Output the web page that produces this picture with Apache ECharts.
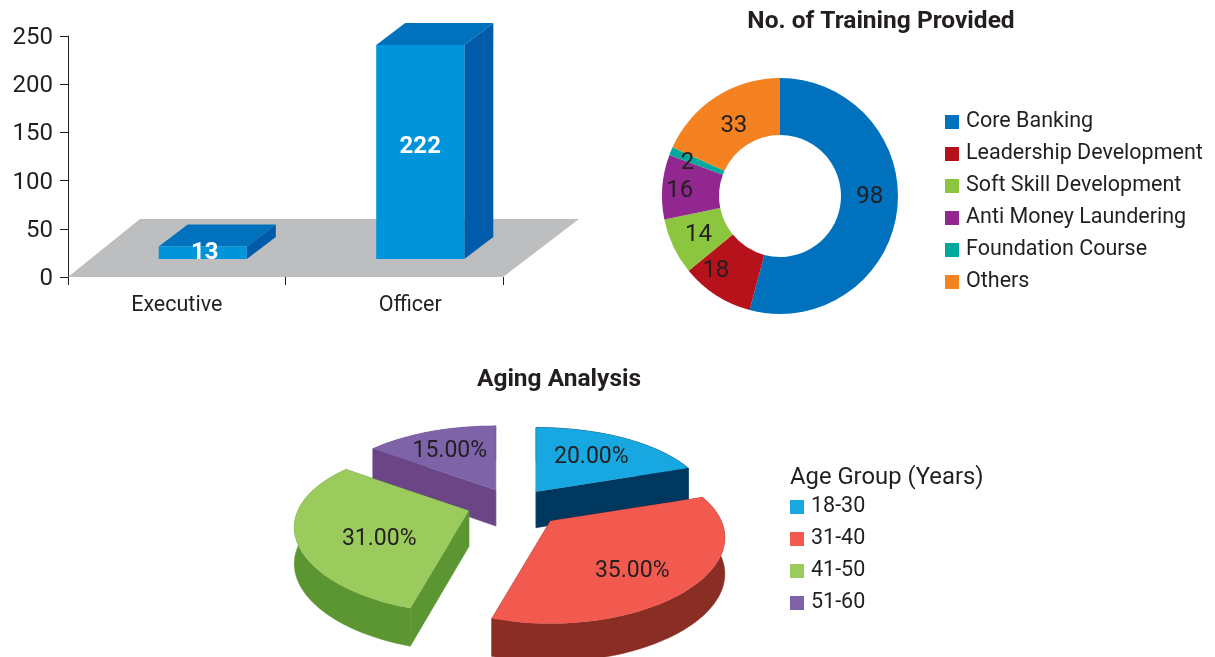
<!DOCTYPE html>
<html><head><meta charset="utf-8">
<style>html,body{margin:0;padding:0;background:#fff}#c{width:1215px;height:657px}</style>
<script src="https://cdn.jsdelivr.net/npm/echarts@6/dist/echarts.min.js"></script>
</head><body><div id="c"></div>
<script>
// --- data ---
const staffCategories = ['Executive', 'Officer'];
const staffValues = [13, 222];
const yTicks = {min: 0, max: 250, interval: 50};
const trainingNames = ['Core Banking', 'Leadership Development', 'Soft Skill Development', 'Anti Money Laundering', 'Foundation Course', 'Others'];
const trainingValues = [98, 18, 14, 16, 2, 33];
const ageGroups = ['18-30', '31-40', '41-50', '51-60'];
const agePercents = [20, 35, 31, 15];
// --- style ---
const FONT = 'Roboto', INK = '#231F20';
const trainingColors = ['#0071BC', '#B5121B', '#8CC63F', '#92278F', '#00A99D', '#F58220'];
const trainingLabelShift = [[-2, -11], [-14, -3], [2, -1], [-8, 2], [-7, 2], [4, 8]];
const ageTop = ['#17A8E1', '#F2594F', '#9BCB5C', '#7F63A9'];
const ageWall = ['#00375F', '#8A2D25', '#5B9632', '#6B4586'];
const ageLabelShift = [[-1, 1], [-2, 13], [15, 12], [-3, 0]];
const ageApexShift = [[-3, 0], [5, 0], [-3, -3], [2, 0]];
const P = {cx: 513.5, cy: 507.5, a: 171, b: 79, k: 0.23, k2: 0.2, ex: 44, ey: 19.5, t: 36, tv: 2, lf: 0.62};
const B = {w: 0.405, ox: 26, oy: -18, dx: 29, dy: -22};
const barLabelShift = [[2, 0.5], [0, -4.5]];
const ageTotal = agePercents.reduce((s, v) => s + v, 0);

function pt(theta, f) {
  const u = Math.sin(theta), v = -Math.cos(theta);
  const w = 1 / (1 - P.k * v * f), wx = 1 / (1 - P.k2 * v * f);
  return {x: P.a * u * f * wx, y: P.b * v * f * w, t: P.t + P.tv * v * f};
}
function sliceItem(idx) {
  return function (params, api) {
    const s = api.value(0) / ageTotal * 2 * Math.PI;
    const val = api.value(1);
    const e = s + val / ageTotal * 2 * Math.PI;
    const m = (s + e) / 2, um = Math.sin(m), vm = -Math.cos(m);
    const ax = P.cx + P.ex * um + ageApexShift[idx][0], ay = P.cy + P.ey * vm + ageApexShift[idx][1];
    const top = [], bottom = [];
    const n = Math.ceil((e - s) / 0.03);
    for (let i = 0; i <= n; i++) {
      const p = pt(s + (e - s) * i / n, 1);
      top.push([ax + p.x, ay + p.y]);
      bottom.push([ax + p.x, ay + p.y + p.t]);
    }
    const z = Math.round((vm + 1) * 100);
    const wall = ageWall[idx], t0 = P.t;
    const wallStyle = {fill: wall, stroke: wall, lineWidth: 0.5};
    const first = top[0], last = top[n];
    const lp = pt(m, P.lf);
    return {type: 'group', children: [
      {type: 'polygon', z2: z, shape: {points: top.concat(bottom.slice().reverse())}, style: wallStyle},
      {type: 'polygon', z2: z + 1, shape: {points: [[ax, ay], first, bottom[0], [ax, ay + t0]]}, style: wallStyle},
      {type: 'polygon', z2: z + 1, shape: {points: [[ax, ay], last, bottom[n], [ax, ay + t0]]}, style: wallStyle},
      {type: 'polygon', z2: z + 2, shape: {points: [[ax, ay]].concat(top)}, style: {fill: ageTop[idx]}},
      {type: 'text', z2: z + 3, style: {x: ax + lp.x + ageLabelShift[idx][0], y: ay + lp.y + ageLabelShift[idx][1], text: val.toFixed(2) + '%', fill: INK,
        font: '23px ' + FONT, align: 'center', verticalAlign: 'middle'}}
    ]};
  };
}
let cum = 0;
const ageSeries = ageGroups.map((name, i) => {
  const start = cum; cum += agePercents[i];
  return {type: 'custom', name, coordinateSystem: 'none', itemStyle: {color: ageTop[i]},
    data: [[start, agePercents[i]]], renderItem: sliceItem(i), silent: true};
});

const floorSeries = {
  type: 'custom', coordinateSystem: 'cartesian2d', silent: true, z: 1, encode: {x: 0, y: 1},
  data: [[0, 0]],
  renderItem: function (params) {
    const c = params.coordSys, y0 = c.y + c.height;
    return {type: 'polygon', shape: {points: [[c.x, y0], [c.x + c.width, y0], [c.x + c.width + 76, y0 - 58], [c.x + 72, y0 - 58]]},
      style: {fill: '#BCBEC0'}};
  }
};
const barSeries = {
  type: 'custom', coordinateSystem: 'cartesian2d', silent: true, z: 2, encode: {x: 0, y: 1},
  data: staffValues.map((v, i) => [i, v]),
  renderItem: function (params, api) {
    const i = api.value(0);
    const base = api.coord([i, 0]), top = api.coord([i, api.value(1)]);
    const w = api.size([1, 0])[0] * B.w;
    const x0 = base[0] + B.ox - w / 2, x1 = x0 + w, yb = base[1] + B.oy, yt = top[1] + B.oy;
    return {type: 'group', children: [
      {type: 'polygon', shape: {points: [[x0, yt], [x0 + B.dx, yt + B.dy], [x1 + B.dx, yt + B.dy], [x1, yt]]}, style: {fill: '#0071BC'}},
      {type: 'polygon', shape: {points: [[x1, yt], [x1 + B.dx, yt + B.dy], [x1 + B.dx, yb + B.dy], [x1, yb]]}, style: {fill: '#005BAA'}},
      {type: 'rect', shape: {x: x0, y: yt, width: w, height: yb - yt}, style: {fill: '#0095DA'}},
      {type: 'text', z2: 5, style: {x: x0 + w / 2 + barLabelShift[i][0], y: (yt + yb) / 2 + barLabelShift[i][1], text: String(api.value(1)), fill: '#fff',
        font: 'bold 24px ' + FONT, align: 'center', verticalAlign: 'middle'}}
    ]};
  }
};

const chart = echarts.init(document.getElementById('c'), null, {renderer: 'canvas'});
chart.setOption({
  animation: false, backgroundColor: '#fff',
  textStyle: {fontFamily: FONT, color: INK},
  title: [
    {text: 'No. of Training Provided', left: 876, top: 4, textAlign: 'center', textStyle: {fontFamily: FONT, fontSize: 24.5, fontWeight: 'bold', color: INK}},
    {text: 'Aging Analysis', left: 554, top: 362, textAlign: 'center', textStyle: {fontFamily: FONT, fontSize: 24.5, fontWeight: 'bold', color: INK}},
    {text: 'Age Group (Years)', left: 785, top: 461, textStyle: {fontFamily: FONT, fontSize: 23.8, fontWeight: 'normal', color: INK}}
  ],
  grid: {left: 68, right: 712, top: 36, bottom: 380},
  xAxis: {type: 'category', data: staffCategories, axisLine: {show: false},
    axisTick: {show: true, length: 8, lineStyle: {color: INK}},
    axisLabel: {fontFamily: FONT, fontSize: 21.5, color: INK, margin: 18, interval: 0,
      formatter: (v, i) => i === 1 ? '{o|' + v + '}' : v,
      rich: {o: {fontFamily: FONT, fontSize: 21.5, color: INK, padding: [0, 0, 0, 32]}}}},
  yAxis: {type: 'value', min: yTicks.min, max: yTicks.max, interval: yTicks.interval, splitLine: {show: false},
    axisLine: {show: true, lineStyle: {color: INK}}, axisTick: {show: true, length: 8, lineStyle: {color: INK}},
    axisLabel: {fontFamily: FONT, fontSize: 24, color: INK, margin: 15, verticalAlign: 'top', lineHeight: 4}},
  legend: [
    {data: trainingNames, orient: 'vertical', left: 940, top: 106, icon: 'rect', itemWidth: 14, itemHeight: 14, itemGap: 10, selectedMode: false,
      textStyle: {fontFamily: FONT, fontSize: 21.5, color: INK, padding: [6, 0, 0, 2]}},
    {data: ageGroups, orient: 'vertical', left: 785, top: 491, icon: 'rect', itemWidth: 14, itemHeight: 14, itemGap: 10, selectedMode: false,
      textStyle: {fontFamily: FONT, fontSize: 21.5, color: INK, padding: [6, 0, 0, 2]}}
  ],
  series: [
    floorSeries, barSeries,
    {type: 'pie', center: [780, 196], radius: [61, 118], startAngle: 90, clockwise: true, avoidLabelOverlap: false, silent: true,
      data: trainingNames.map((name, i) => ({name, value: trainingValues[i], itemStyle: {color: trainingColors[i]}})),
      label: {show: true, position: 'inside', formatter: '{c}', fontFamily: FONT, fontSize: 24, color: INK},
      labelLine: {show: false},
      labelLayout: p => ({dx: trainingLabelShift[p.dataIndex][0], dy: trainingLabelShift[p.dataIndex][1]})}
  ].concat(ageSeries)
});
</script></body></html>
